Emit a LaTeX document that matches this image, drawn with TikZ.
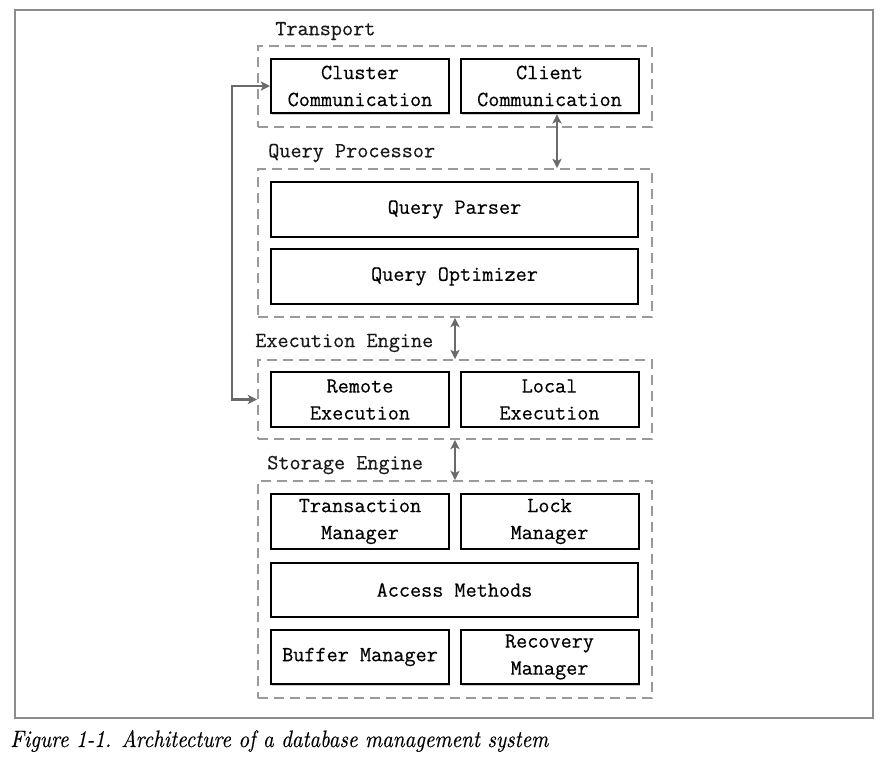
\documentclass[tikz,border=0pt]{standalone}
\usepackage{fontspec}
\newfontfamily\diagmono{Latin Modern Mono}[FakeBold=0.4]
\newfontfamily\capfont{Latin Modern Roman}[FakeBold=0.3]
\usetikzlibrary{arrows.meta,fit,shadows}
\definecolor{grpgray}{HTML}{9A9A9A}
\definecolor{arrgray}{HTML}{6A6A6A}
\definecolor{framegray}{HTML}{8C8C8C}
\tikzset{
  box/.style={draw=black, line width=1.5pt, fill=white, inner sep=0pt, align=center,
    font=\diagmono\fontsize{16.2}{20.25}\selectfont,
    drop shadow={shadow xshift=1pt, shadow yshift=-1pt, opacity=0.2, fill=black}},
  halfbox/.style={box, minimum width=133.5pt, minimum height=40.9pt},
  widebox/.style={box, minimum width=275.25pt, minimum height=40.6pt},
  group/.style={draw=grpgray, line width=1.4pt, dash pattern=on 7.5pt off 4.5pt, inner sep=0pt},
  glabel/.style={anchor=west, inner sep=0pt, font=\diagmono\fontsize{16.2}{20.25}\selectfont, text=black!90},
  darr/.style={draw=arrgray, line width=1.8pt,
    {Stealth[length=7pt,width=7pt,inset=1.8pt]}-{Stealth[length=7pt,width=7pt,inset=1.8pt]}}
}
\begin{document}
\begin{tikzpicture}[x=0.75pt,y=-0.75pt]
\useasboundingbox (0,0) rectangle (880,765);
% outer frame
\draw[framegray, line width=0.9pt] (15,10) rectangle (873,718);
% groups
\node[group, fit={(258,46) (652,127)}] (transport) {};
\node[group, fit={(258,169) (652,317)}] (qp) {};
\node[group, fit={(258,360) (652,439)}] (exec) {};
\node[group, fit={(258,481) (652,698)}] (storage) {};
% group labels
\node[glabel] (ltransport) at (275,31) {Transport};
\node[glabel] (lqp) at (268,153) {Query Processor};
\node[glabel] (lexec) at (255,343) {Execution Engine};
\node[glabel] (lstorage) at (267,465) {Storage Engine};
% boxes
\node[halfbox] (cluster) at (360,86) {Cluster\\Communication};
\node[halfbox] (client) at (549.5,86) {Client\\Communication};
\node[widebox] (parser) at (454.5,209.5) {Query Parser};
\node[widebox] (optimizer) at (454.5,276.5) {Query Optimizer};
\node[halfbox] (remote) at (360,399.5) {Remote\\Execution};
\node[halfbox] (local) at (549.5,399.5) {Local\\Execution};
\node[halfbox] (transaction) at (360,521.5) {Transaction\\Manager};
\node[halfbox] (lock) at (549.5,521.5) {Lock\\Manager};
\node[widebox] (access) at (454.5,590) {Access Methods};
\node[halfbox] (buffer) at (360,657) {Buffer Manager};
\node[halfbox] (recovery) at (549.5,657) {Recovery\\Manager};
% connectors
\coordinate (cdown) at ([xshift=5.6pt]client.south);
\draw[darr] (cdown) -- (cdown |- qp.north);
\draw[darr] (qp.south) -- (exec.north);
\draw[darr] (exec.south) -- (storage.north);
\draw[darr] (cluster.west) -- ++(-38,0) |- (exec.west);
% caption
\node[anchor=base west, inner sep=0pt] (caption) at (10,747)
  {\resizebox{403.5pt}{12.8pt}{\capfont\itshape Figure 1-1. Architecture of a database management system}};
\end{tikzpicture}
\end{document}
